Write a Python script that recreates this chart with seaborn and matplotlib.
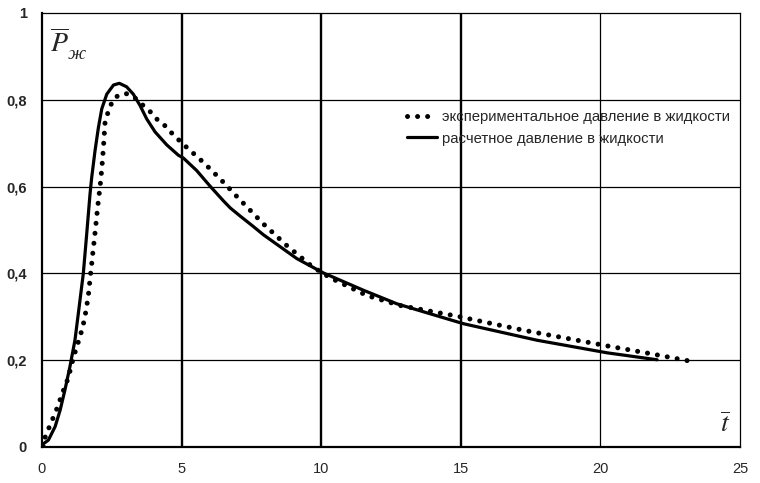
# Pressure in liquid: experimental vs calculated

import pandas as pd
import numpy as np
import matplotlib.pyplot as plt
import seaborn as sns

# experimental curve (dotted)
t_exp = [0.05, 0.11, 0.26, 0.41, 0.55, 0.67, 0.8, 0.94, 1.12, 1.24, 1.36, 1.46,
         1.54, 1.6, 1.66, 1.7, 1.74, 1.78, 1.82, 1.86, 1.9, 1.94, 1.98, 2.02,
         2.08, 2.14, 2.2, 2.26, 2.44, 2.65, 2.99, 3.3, 3.57, 3.87, 4.15, 4.41,
         4.68, 4.97, 5.24, 5.52, 5.81, 6.08, 6.36, 6.62, 6.86, 7.93, 8.77, 9.67,
         10.32, 11.64, 12.83, 13.9, 14.98, 15.4, 17.25, 19.16, 20.24, 21.8, 23.2]
p_exp = [0.0, 0.022, 0.046, 0.069, 0.091, 0.113, 0.136, 0.159, 0.205, 0.23, 0.254, 0.277,
         0.301, 0.324, 0.349, 0.374, 0.399, 0.422, 0.447, 0.47, 0.494, 0.519, 0.544, 0.568,
         0.6, 0.64, 0.69, 0.75, 0.786, 0.807, 0.815, 0.806, 0.79, 0.773, 0.753, 0.74,
         0.721, 0.703, 0.687, 0.671, 0.654, 0.637, 0.619, 0.602, 0.585, 0.514, 0.464, 0.416,
         0.39, 0.349, 0.326, 0.313, 0.30, 0.294, 0.269, 0.246, 0.233, 0.215, 0.198]

# calculated curve (solid)
t_calc = [0.0, 0.23, 0.47, 0.65, 0.82, 1.0, 1.18, 1.3, 1.42, 1.48, 1.6, 1.72, 1.78,
          1.9, 2.02, 2.14, 2.32, 2.56, 2.77, 3.03, 3.27, 3.51, 3.75, 4.05, 4.47,
          4.89, 5.06, 5.54, 6.02, 6.5, 6.74, 7.1, 7.57, 7.93, 9.13, 10.08, 11.52,
          12.71, 13.9, 15.1, 17.73, 20.24, 22.03]
p_calc = [0.005, 0.016, 0.047, 0.085, 0.131, 0.185, 0.246, 0.307, 0.369, 0.40, 0.49, 0.583, 0.621,
          0.683, 0.736, 0.779, 0.813, 0.834, 0.838, 0.83, 0.813, 0.787, 0.756, 0.726, 0.696,
          0.672, 0.666, 0.637, 0.601, 0.567, 0.551, 0.532, 0.508, 0.489, 0.434, 0.401, 0.361,
          0.330, 0.307, 0.284, 0.246, 0.217, 0.201]

x_ticks = [0, 5, 10, 15, 20, 25]
y_ticks = [0, 0.2, 0.4, 0.6, 0.8, 1]
y_labels = ["0", "0,2", "0,4", "0,6", "0,8", "1"]

exp_df = pd.DataFrame({"t": t_exp, "p": p_exp})
calc_df = pd.DataFrame({"t": t_calc, "p": p_calc})

sns.set_style("white")
plt.rcParams['font.family'] = ['Liberation Sans', 'DejaVu Sans']
plt.rcParams['mathtext.fontset'] = 'stix'

fig = plt.figure(figsize=(7.6, 4.83), dpi=100)
ax = fig.add_axes([42/760, 1 - 447/483, 698/760, 434/483])

sns.lineplot(data=exp_df, x="t", y="p", ax=ax, color="black", linewidth=3.6,
             linestyle=(0, (0.01, 2.0)), dash_capstyle="round",
             label="экспериментальное давление в жидкости")
sns.lineplot(data=calc_df, x="t", y="p", ax=ax, color="black", linewidth=2.3,
             label="расчетное давление в жидкости")

ax.set_xlim(0, 25)
ax.set_ylim(0, 1)
ax.set_xticks(x_ticks)
ax.set_yticks(y_ticks)
ax.set_yticklabels(y_labels, fontweight="bold", fontsize=10.5)
ax.set_xticklabels([str(v) for v in x_ticks], fontsize=10.5)
ax.tick_params(length=0, pad=11)
ax.set_xlabel("")
ax.set_ylabel("")

# grid: horizontal thin, vertical lines at 5,10,15 heavier
for v in y_ticks[1:-1]:
    ax.axhline(v, color="black", linewidth=0.9, zorder=0)
for v in [5, 10, 15]:
    ax.axvline(v, color="black", linewidth=1.7, zorder=0)
ax.axvline(20, color="black", linewidth=0.9, zorder=0)

for side in ["top", "right"]:
    ax.spines[side].set_linewidth(0.9)
for side in ["left", "bottom"]:
    ax.spines[side].set_linewidth(1.6)
for s in ax.spines.values():
    s.set_color("black")

# axis symbols
ax.text(0.3, 0.93, r"$\overline{P}$", fontsize=20, ha="left", va="center")
ax.text(0.92, 0.905, "ж", fontsize=14, style="italic", family="Liberation Serif",
        ha="left", va="center")
ax.text(24.45, 0.05, r"$\overline{t}$", fontsize=20, ha="center", va="center")

leg = ax.legend(loc="upper left", bbox_to_anchor=(0.515, 0.79), frameon=False,
                fontsize=10.7, handlelength=2.0, handletextpad=0.35, labelspacing=0.5,
                borderaxespad=0)

fig.savefig("out.png", dpi=100)
